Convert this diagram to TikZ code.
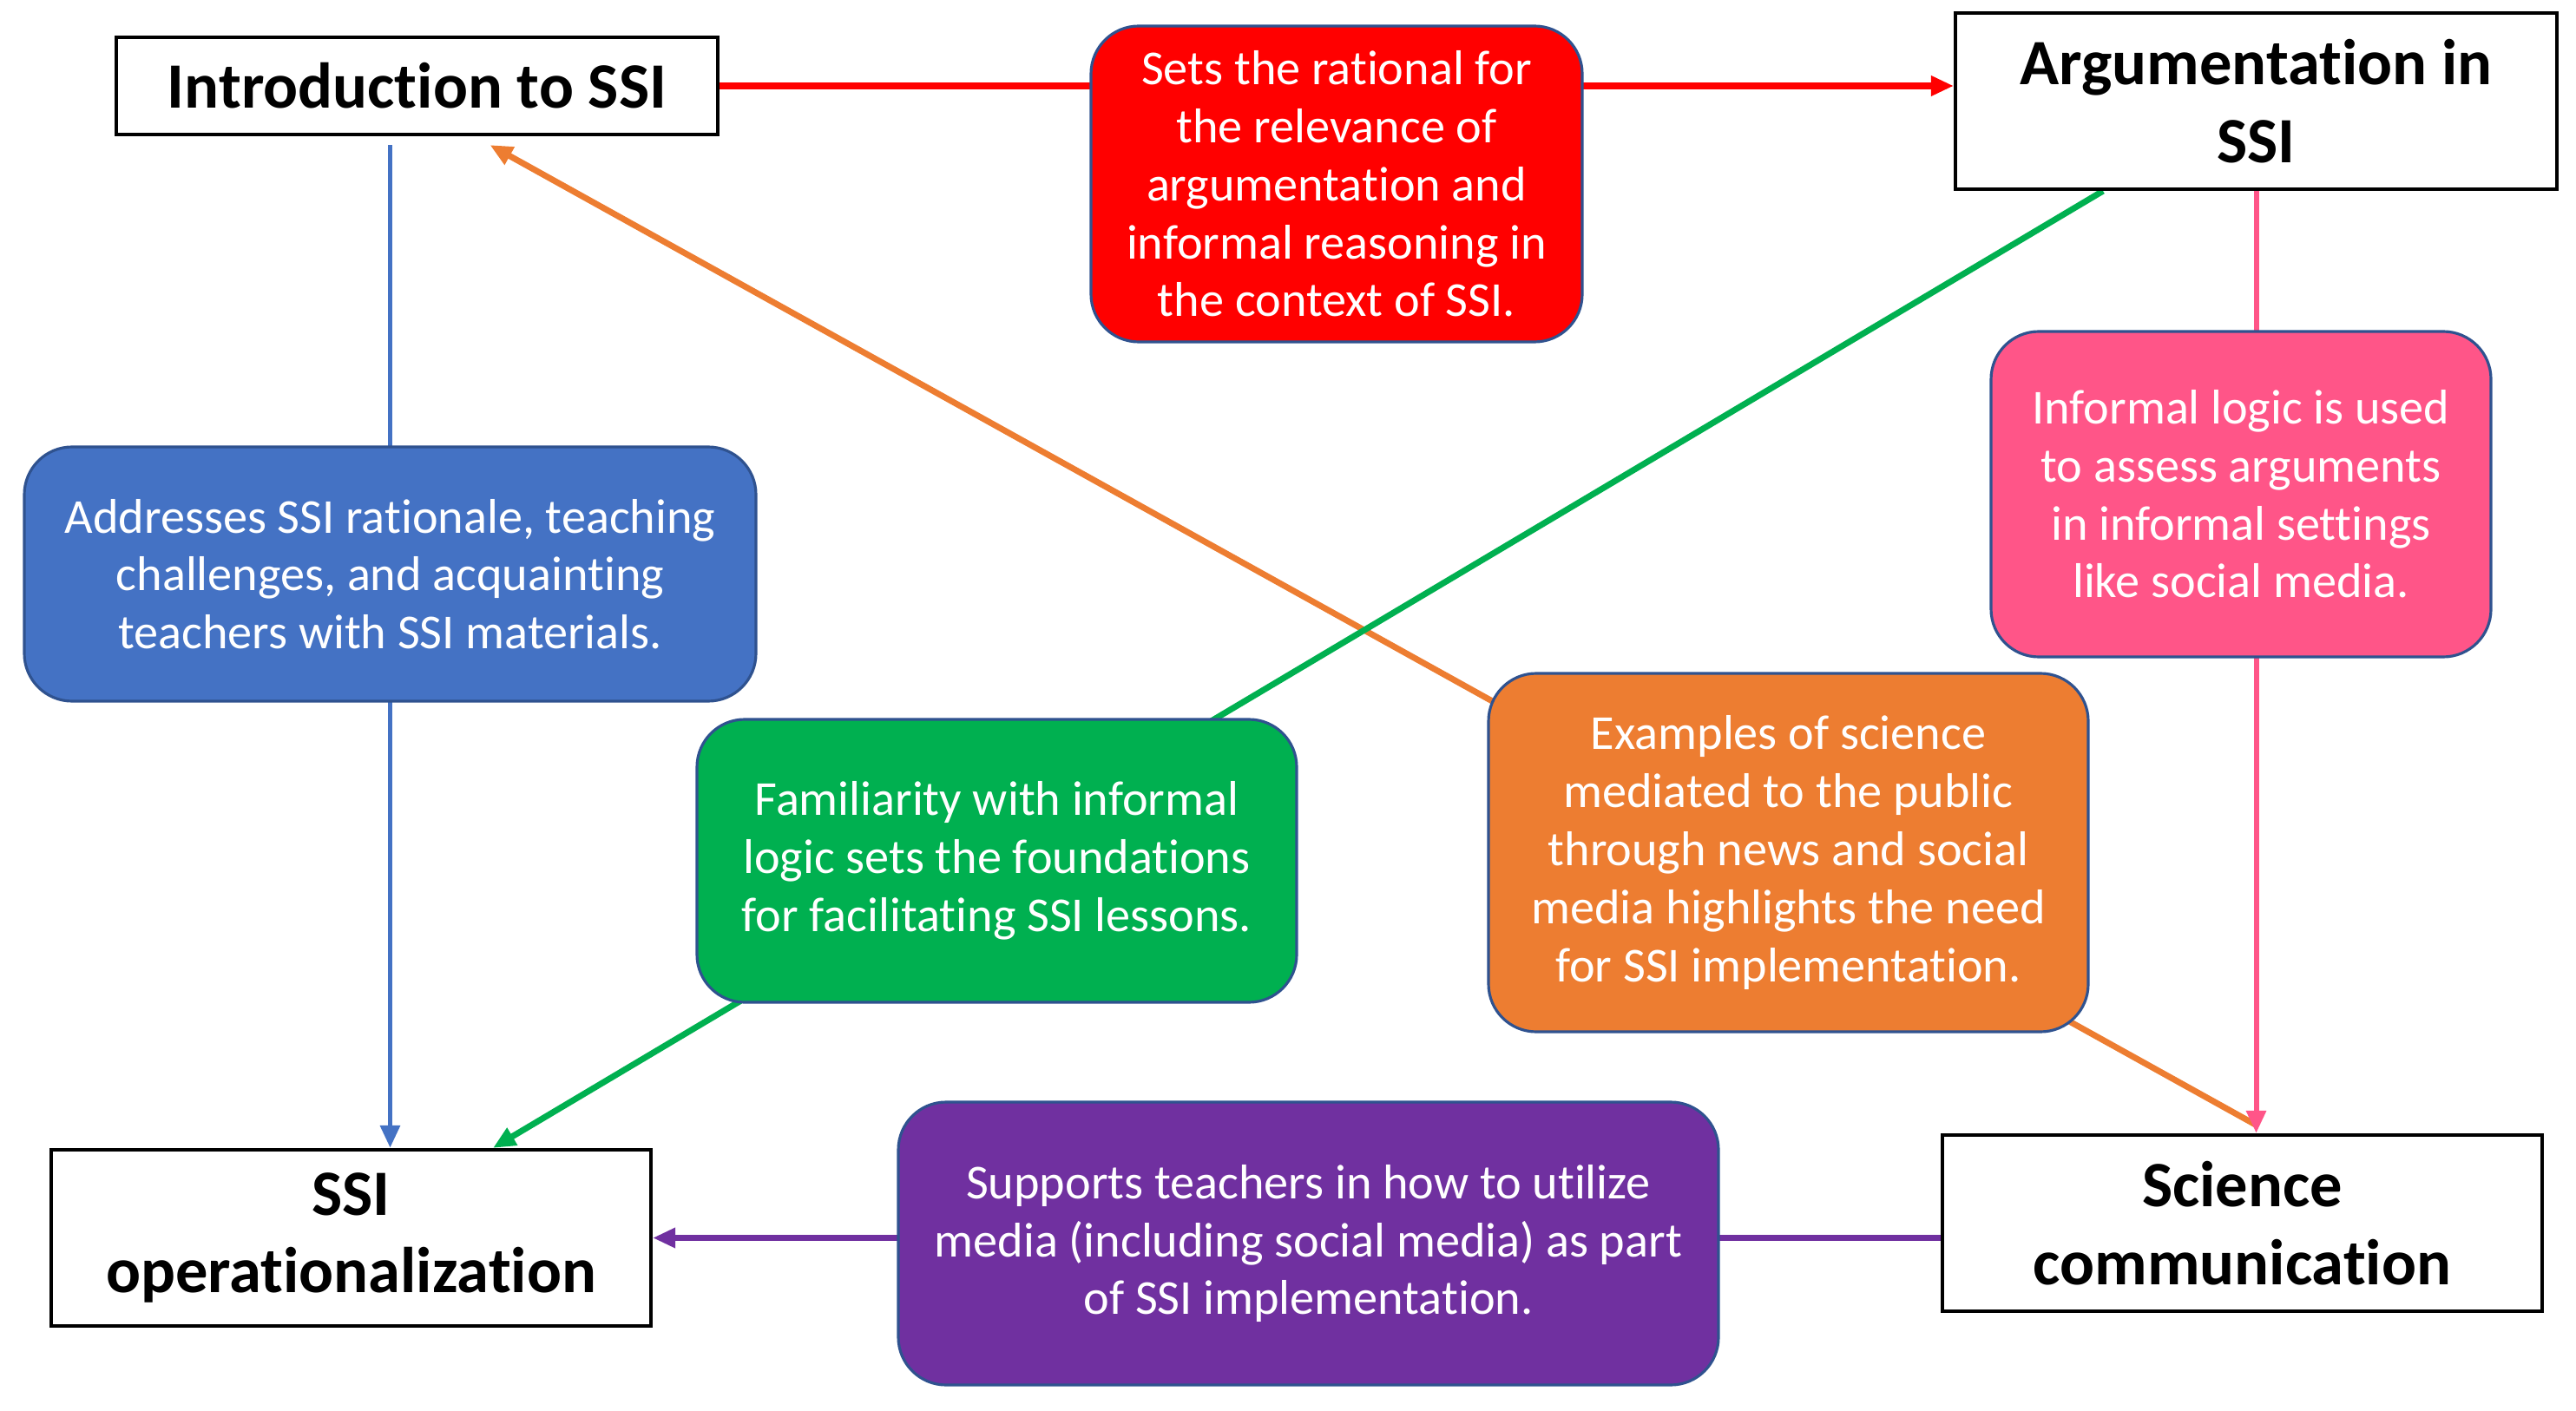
\documentclass[tikz,border=0pt]{standalone}
\usepackage{fontspec}
\setmainfont{Carlito}[Ligatures=NoCommon]
\usetikzlibrary{arrows.meta,calc,backgrounds}
\definecolor{edgeblue}{HTML}{2F528F}
\definecolor{sblue}{HTML}{4472C4}
\definecolor{sgreen}{HTML}{00B050}
\definecolor{sorange}{HTML}{ED7D31}
\definecolor{spurple}{HTML}{7030A0}
\definecolor{spink}{HTML}{FF5588}

\begin{document}
\begin{tikzpicture}[>={Triangle[length=0.26cm,width=0.22cm]},
 topic/.style={draw,line width=1.2pt,fill=white,inner sep=0pt,align=center,font=\fontsize{21.2}{25.5}\selectfont\bfseries},
 note/.style={draw=edgeblue,line width=0.9pt,rounded corners=0.55cm,inner sep=0pt,align=center,text=white,font=\fontsize{16}{19}\selectfont},
 link/.style={line width=1.7pt}]
 \useasboundingbox (0,0) rectangle (29.68,-16.26);
 \node[topic,minimum width=6.93cm,minimum height=1.12cm] (intro) at (4.805,-0.99) {Introduction to SSI};
 \node[topic,minimum width=6.93cm,minimum height=2.03cm] (arg) at (25.995,-1.165) {Argumentation in\\SSI};
 \node[topic,minimum width=6.91cm,minimum height=2.03cm] (op) at (4.045,-14.265) {SSI\\operationalization};
 \node[topic,minimum width=6.91cm,minimum height=2.03cm] (sci) at (25.835,-14.095) {Science\\communication};
 \node[note,fill=red,minimum width=5.66cm,minimum height=3.64cm] (rat) at (15.40,-2.12)
  {Sets the rational for\\the relevance of\\argumentation and\\informal reasoning in\\the context of SSI.};
 \node[note,fill=spink,minimum width=5.76cm,minimum height=3.75cm] (logic) at (25.82,-5.695)
  {Informal logic is used\\to assess arguments\\in informal settings\\like social media.};
 \node[note,fill=sblue,minimum width=8.43cm,minimum height=2.93cm] (addr) at (4.495,-6.615)
  {Addresses SSI rationale, teaching\\challenges, and acquainting\\teachers with SSI materials.};
 \node[note,fill=sgreen,minimum width=6.91cm,minimum height=3.26cm] (fam) at (11.485,-9.92)
  {Familiarity with informal\\logic sets the foundations\\for facilitating SSI lessons.};
 \node[note,fill=sorange,minimum width=6.91cm,minimum height=4.13cm] (exm) at (20.605,-9.825)
  {Examples of science\\mediated to the public\\through news and social\\media highlights the need\\for SSI implementation.};
 \node[note,fill=spurple,minimum width=9.45cm,minimum height=3.26cm] (sup) at (15.075,-14.33)
  {Supports teachers in how to utilize\\media (including social media) as part\\of SSI implementation.};
 \coordinate (otip) at ($(intro.south)+(0.84,-0.1)$); %orange arrow end
 \coordinate (ostart) at ($(sci.north)+(0.15,0.1)$); %orange line start
 \begin{scope}[on background layer]
 \draw[link,red,line width=2.2pt,->] (intro.east) -- (intro.east -| arg.west); %intro -> argumentation
 \draw[link,sblue,->] ($(intro.south -| addr.north)+(0,-0.1)$) -- (addr.north |- op.north); %intro -> operationalization
 \draw[link,sorange,line width=2pt,->] (ostart) -- (otip); %science comm. -> intro
 \draw[link,sgreen,line width=2pt,->] ($(arg.south)+(-1.765,0)$) -- ($(op.north)+(1.635,0)$); %argumentation -> operationalization
 \draw[link,spink,->] (arg.south) -- (arg.south |- sci.north); %argumentation -> science comm.
 \draw[link,spurple,line width=2pt,->] (sci.west |- op.east) -- (op.east); %science comm. -> operationalization
 \end{scope}
\end{tikzpicture}
\end{document}
